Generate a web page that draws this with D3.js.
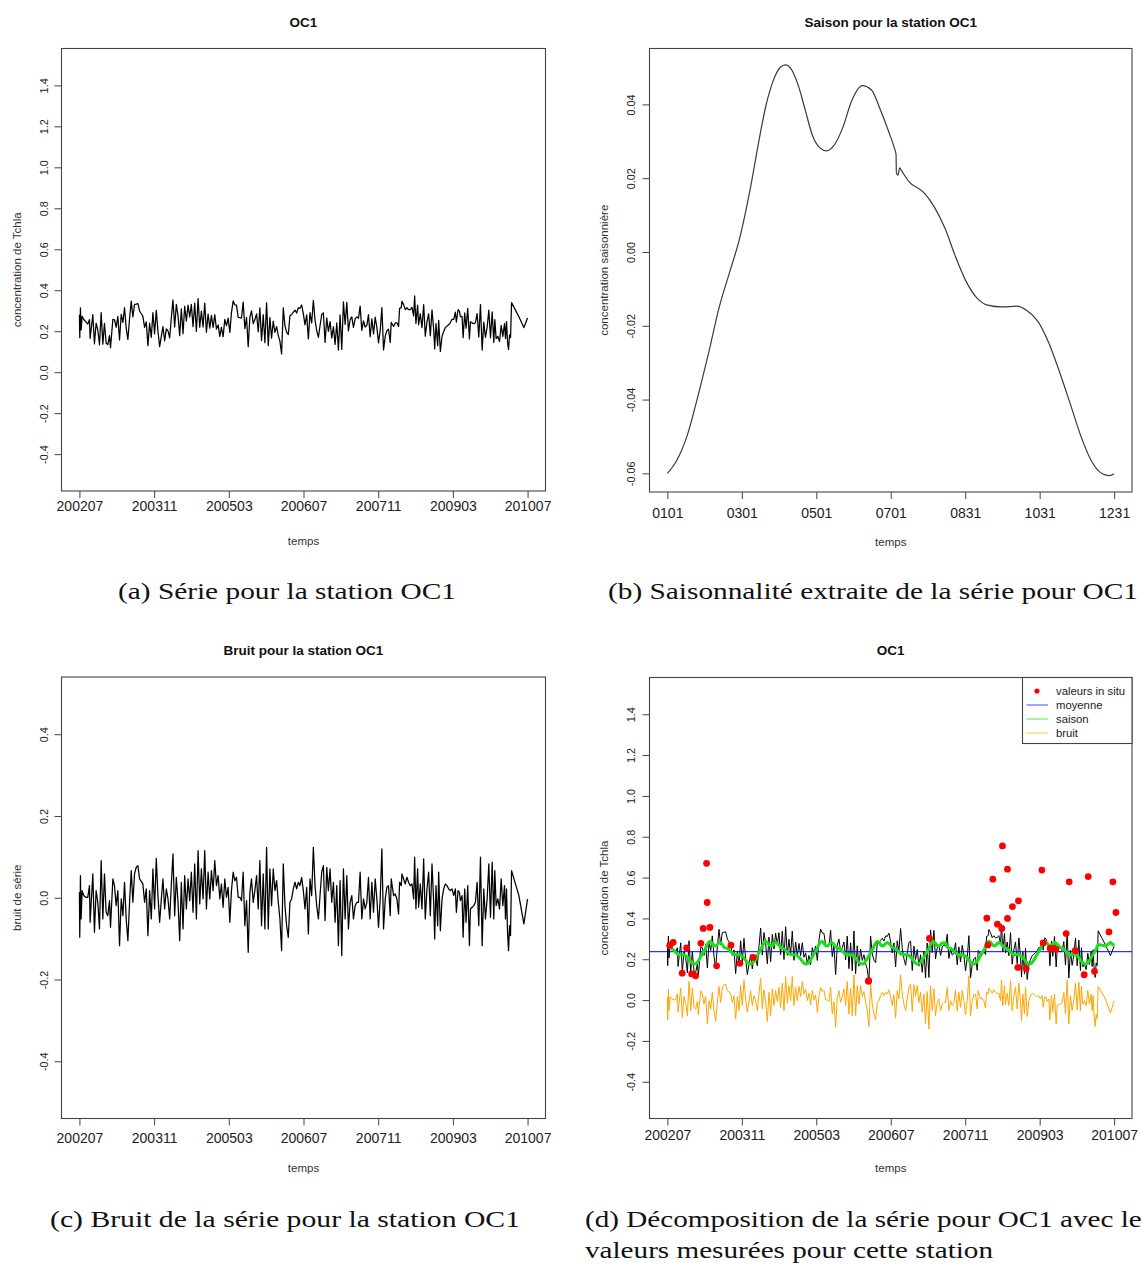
<!DOCTYPE html>
<html>
<head>
<meta charset="utf-8">
<script src="https://cdn.jsdelivr.net/npm/d3@7"></script>
<style>
  body { margin: 0; background: #fff; }
  svg { display: block; }
</style>
</head>
<body>
<svg id="fig" width="1142" height="1264"></svg>
<script>
// ---- station OC1 : time axis (decimal years) ----
const timeStart = 2002.5;
const timeEnd = 2010.5;
const timeTickLabels = ["200207", "200311", "200503", "200607", "200711", "200903", "201007"];

// observation dates (decimal years)
const obsTime = [
  2002.500,2002.506,2002.518,2002.530,2002.548,2002.578,2002.619,2002.649,2002.679,2002.691,
  2002.739,2002.768,2002.798,2002.828,2002.858,2002.888,2002.918,2002.947,2002.977,2003.007,
  2003.037,2003.055,2003.097,2003.126,2003.156,2003.186,2003.216,2003.246,2003.276,2003.305,
  2003.335,2003.365,2003.395,2003.425,2003.454,2003.484,2003.514,2003.544,2003.574,2003.633,
  2003.663,2003.693,2003.723,2003.753,2003.783,2003.812,2003.842,2003.872,2003.902,2003.932,
  2003.962,2003.991,2004.021,2004.051,2004.081,2004.111,2004.141,2004.170,2004.200,2004.230,
  2004.260,2004.290,2004.319,2004.349,2004.379,2004.409,2004.439,2004.469,2004.498,2004.528,
  2004.558,2004.588,2004.618,2004.648,2004.677,2004.707,2004.737,2004.767,2004.797,2004.827,
  2004.856,2004.886,2004.916,2004.946,2004.976,2005.006,2005.035,2005.065,2005.095,2005.125,
  2005.155,
  2005.185,2005.214,2005.244,2005.274,2005.304,2005.334,2005.364,2005.393,2005.423,2005.453,
  2005.483,2005.513,2005.543,2005.572,2005.602,2005.632,2005.662,2005.692,2005.721,2005.751,
  2005.781,2005.811,2005.841,2005.871,2005.900,2005.930,2005.960,2005.990,2006.020,2006.050,
  2006.079,2006.109,2006.139,2006.169,2006.199,2006.229,2006.258,2006.288,2006.318,2006.348,
  2006.378,2006.408,2006.437,2006.467,2006.497,2006.527,2006.557,2006.587,2006.616,2006.646,
  2006.676,2006.706,2006.736,2006.766,2006.795,2006.825,2006.855,2006.885,2006.915,2006.944,
  2006.974,2007.004,2007.034,2007.064,2007.094,2007.123,2007.153,2007.183,2007.213,2007.243,
  2007.273,2007.302,2007.332,2007.362,2007.392,2007.422,2007.452,2007.481,2007.511,2007.541,
  2007.571,2007.601,2007.631,2007.660,2007.690,2007.720,2007.750,2007.780,2007.810,
  2007.839,2007.869,2007.899,2007.929,2007.959,2007.988,2008.018,2008.048,2008.066,2008.108,
  2008.138,2008.167,2008.197,2008.215,2008.245,2008.257,2008.287,2008.317,2008.346,2008.376,
  2008.406,2008.436,2008.466,2008.484,2008.507,2008.537,2008.555,2008.585,2008.615,2008.645,
  2008.674,2008.704,2008.734,2008.764,2008.794,2008.824,2008.842,2008.865,2008.895,2008.913,
  2008.943,2008.973,2009.003,2009.032,2009.062,2009.092,2009.122,2009.152,2009.182,2009.211,
  2009.229,2009.259,2009.283,2009.301,2009.331,2009.349,2009.378,2009.402,2009.432,2009.462,
  2009.480,2009.510,2009.540,2009.569,2009.599,2009.629,2009.659,2009.689,2009.718,2009.748,
  2009.778,2009.808,2009.838,2009.868,2009.897,2009.915,2009.939,2009.969,2009.999,2010.029,
  2010.058,2010.088,2010.106,2010.124,2010.142,2010.160,2010.178,2010.196,2010.214,2010.345,
  2010.434,2010.500
];

// noise component (bruit) at each observation date
const bruit = [
  0.0134,-0.0968,0.0542,-0.0519,0.0175,0.0052,0.0011,0.0011,0.0297,-0.0601,
  0.0583,-0.0845,0.0175,-0.0111,-0.0764,0.0909,-0.0519,0.0583,-0.0356,-0.0437,
  -0.0070,-0.0723,0.0460,0.0297,-0.0193,0.0175,-0.1171,-0.0029,-0.0437,0.0379,
  -0.0519,-0.1049,-0.0111,0.0664,-0.0111,0.0583,0.0746,0.0787,0.0460,0.0338,
  -0.0111,0.0215,-0.0927,0.0175,-0.0519,0.0705,-0.0274,0.0966,0.0052,-0.0601,
  -0.0029,0.0460,-0.0274,0.0215,-0.0029,-0.0519,0.0338,0.1072,-0.0437,0.0501,
  -0.0111,-0.1049,0.0379,-0.0764,0.0542,-0.0274,0.0460,-0.0070,0.0624,-0.0356,
  0.0827,-0.0519,0.1154,-0.0152,0.0705,-0.0029,0.1154,-0.0274,0.0624,-0.0029,
  0.0664,0.0175,0.0909,0.0297,0.0542,-0.0029,0.0338,-0.0233,0.0460,0.0011,
  0.0256,
  -0.0601,0.0175,0.0624,0.0419,0.0501,0.0011,0.0011,-0.0070,0.0624,-0.0682,
  -0.0070,-0.1335,0.0134,0.0460,-0.0111,0.0175,0.0542,-0.0274,0.0909,-0.0682,
  0.0583,-0.0764,0.1235,-0.0764,0.0705,-0.0193,0.0705,0.0175,0.0419,-0.0111,
  -0.0519,-0.1293,0.0827,-0.0193,-0.0682,-0.0968,-0.0111,-0.0029,0.0215,0.0379,
  0.0215,0.0379,0.0297,0.0501,0.0175,-0.0274,0.0256,-0.0885,0.0460,0.0052,
  0.1235,0.0297,-0.0193,-0.0519,0.0052,0.0624,0.0787,-0.0559,0.0746,0.0175,
  0.0705,-0.0111,0.0379,-0.0601,0.0297,-0.1171,0.0419,-0.1416,0.0705,-0.0519,
  0.0542,-0.0764,-0.0111,0.0052,-0.0519,-0.0193,-0.0111,-0.0111,0.0624,-0.0519,
  -0.0029,-0.0274,-0.0111,0.0501,-0.0519,0.0379,-0.0356,0.0460,-0.0029,
  -0.0723,-0.0029,0.1195,-0.0764,-0.0029,0.0256,0.0297,-0.0437,0.0460,0.0052,
  0.0093,-0.0029,-0.0396,0.0379,0.0297,0.0583,0.0460,0.0338,0.0501,0.0379,
  0.0297,0.0338,-0.0029,0.0991,-0.0274,0.0705,-0.0233,0.0338,-0.0274,0.0950,
  -0.0519,0.0215,0.0624,-0.0437,0.0827,-0.0111,-0.1008,0.0297,-0.0682,0.0624,
  -0.0804,-0.0029,0.0215,0.0338,0.0297,0.0215,0.0175,0.0215,0.0052,0.0215,
  -0.0356,0.0175,0.0134,-0.0070,0.0052,-0.0968,0.0215,-0.0601,0.0297,-0.1171,
  -0.0274,-0.0233,-0.0193,-0.0111,0.0379,-0.0682,0.0991,-0.1171,0.0215,-0.0519,
  -0.0029,0.0827,-0.0477,0.0869,-0.0519,0.0664,-0.0193,-0.0029,-0.0274,0.0460,
  -0.0193,0.0297,-0.0519,0.0215,-0.0845,-0.1293,-0.0682,-0.0926,0.0664,0.0052,
  -0.0641,-0.0031
];

// mean level of the series
const moyenne = 0.237;

// seasonal component over one year (day of year -> value)
const saisonDay = [1, 8.3, 17, 25.8, 34.5, 43.3, 52, 60.2, 68, 75.4,
  81.2, 87.1, 92.9, 97.3, 101.6, 107.5, 113.3, 119.1, 125, 130.8,
  136.6, 143.9, 151.2, 159.9, 167.3, 174.6, 181.8, 186.2, 187.3, 187.6,
  188.8, 190.3, 191.5, 197.8, 209.6, 218.3, 227.1, 235.8, 244.6, 253.3,
  262, 273.7, 285.4, 294.1, 302.9, 311.7, 320.4, 329.2, 337.9, 346.6,
  355.4, 361.2, 365];
const saisonVal = [-0.0600, -0.0567, -0.0499, -0.0392, -0.0275, -0.0149, -0.0052, 0.0041, 0.0162, 0.0298,
  0.0395, 0.0463, 0.0500, 0.0507, 0.0497, 0.0453, 0.0385, 0.0317, 0.0283, 0.0274,
  0.0288, 0.0337, 0.0410, 0.0451, 0.0439, 0.0385, 0.0322, 0.0279, 0.0265, 0.0215,
  0.0208, 0.0228, 0.0222, 0.0191, 0.0162, 0.0123, 0.0065, -0.0013, -0.0081, -0.0125,
  -0.0144, -0.0149, -0.0147, -0.0159, -0.0188, -0.0246, -0.0324, -0.0411, -0.0499, -0.0567,
  -0.0601, -0.0606, -0.0601];
const dayTickLabels = ["0101", "0301", "0501", "0701", "0831", "1031", "1231"];

// in situ measurements
const insituTime = [2002.545, 2002.604, 2002.765, 2002.844, 2002.934, 2003.005, 2003.100, 2003.142, 2003.202, 2003.213,
  2003.262, 2003.382, 2003.638, 2003.799, 2004.038, 2006.099, 2006.105, 2007.192, 2008.220, 2008.240,
  2008.328, 2008.410, 2008.489, 2008.500, 2008.590, 2008.590, 2008.679, 2008.776, 2008.787, 2008.925,
  2009.206, 2009.230, 2009.355, 2009.414, 2009.457, 2009.641, 2009.695, 2009.803, 2009.964, 2010.036,
  2010.149, 2010.407, 2010.478, 2010.532];
const insituVal = [0.269, 0.283, 0.132, 0.255, 0.128, 0.119, 0.278, 0.351, 0.670, 0.478,
  0.356, 0.168, 0.269, 0.180, 0.209, 0.092, 0.095, 0.302, 0.401, 0.270,
  0.592, 0.372, 0.351, 0.755, 0.641, 0.400, 0.458, 0.160, 0.486, 0.155,
  0.637, 0.280, 0.253, 0.253, 0.250, 0.326, 0.579, 0.242, 0.124, 0.605,
  0.141, 0.334, 0.579, 0.429];

// y tick values
const concTicks = [-0.4, -0.2, 0, 0.2, 0.4, 0.6, 0.8, 1.0, 1.2, 1.4];
const bruitTicks = [-0.4, -0.2, 0, 0.2, 0.4];
const saisonTicks = [-0.06, -0.04, -0.02, 0, 0.02, 0.04];

// ---- derived series ----
const saisonOf = d3.scaleLinear().domain(saisonDay).range(saisonVal).clamp(true);
const dayOfYear = t => 1 + (t - Math.floor(t)) * 365;
const obs = obsTime.map((t, i) => ({
  t,
  bruit: bruit[i],
  saison: moyenne + saisonOf(dayOfYear(t)),
  serie: moyenne + saisonOf(dayOfYear(t)) + bruit[i]
}));
const insitu = insituTime.map((t, i) => ({ t, v: insituVal[i] }));
const saisonPts = saisonDay.map((d, i) => ({ d, v: saisonVal[i] }));

// ---- drawing helpers ----
const SANS = "'Liberation Sans', Arial, Helvetica, sans-serif";
const SERIF = "'Liberation Serif', 'Times New Roman', serif";
const svg = d3.select("#fig");

// R-like scale: 4 % padding around the data range
function padded(lo, hi, r0, r1) {
  const p = (hi - lo) * 0.04;
  return d3.scaleLinear().domain([lo - p, hi + p]).range([r0, r1]);
}

function panel(o) {
  const g = svg.append("g");
  const x = padded(o.xlim[0], o.xlim[1], o.box.l, o.box.r);
  const y = padded(o.ylim[0], o.ylim[1], o.box.b, o.box.t);

  // x axis
  const xa = d3.axisBottom(x).tickValues(o.xticks)
    .tickFormat((d, i) => o.xlabels[i]).tickSize(7).tickPadding(o.xpad).tickSizeOuter(0);
  const gx = g.append("g").attr("transform", `translate(0,${o.box.b})`).call(xa);
  gx.select(".domain").remove();
  gx.selectAll("line").attr("stroke", "#444").attr("stroke-width", 1);
  gx.selectAll("text").attr("font-family", SANS).attr("font-size", 14).attr("fill", "#222");

  // y axis with labels parallel to the axis
  const ya = d3.axisLeft(y).tickValues(o.yticks).tickFormat(o.yfmt).tickSize(7).tickSizeOuter(0);
  const gy = g.append("g").attr("transform", `translate(${o.box.l},0)`).call(ya);
  gy.select(".domain").remove();
  gy.selectAll("line").attr("stroke", "#444").attr("stroke-width", 1);
  gy.selectAll("text")
    .attr("font-family", SANS).attr("font-size", 10.8).attr("fill", "#222")
    .attr("transform", "rotate(-90)").attr("x", 0).attr("y", -o.ypad).attr("dy", 0)
    .attr("text-anchor", "middle");

  // frame
  g.append("rect").attr("x", o.box.l).attr("y", o.box.t)
    .attr("width", o.box.r - o.box.l).attr("height", o.box.b - o.box.t)
    .attr("fill", "none").attr("stroke", "#444").attr("stroke-width", 1.1);

  // titles
  const cx = (o.box.l + o.box.r) / 2;
  g.append("text").attr("x", cx).attr("y", o.titleY).attr("text-anchor", "middle")
    .attr("font-family", SANS).attr("font-weight", "bold").attr("font-size", 13.5)
    .attr("fill", "#111").text(o.title);
  g.append("text").attr("x", cx).attr("y", o.xlabY).attr("text-anchor", "middle")
    .attr("font-family", SANS).attr("font-size", 11.5).attr("fill", "#333").text("temps");
  g.append("text").attr("transform", `translate(${o.ylabX},${(o.box.t + o.box.b) / 2}) rotate(-90)`)
    .attr("text-anchor", "middle").attr("font-family", SANS).attr("font-size", 11.5)
    .attr("fill", "#333").text(o.ylab);

  const plot = g.append("g");
  return { g: plot, x, y };
}

const timeTicks = d3.range(7).map(i => timeStart + i * (timeEnd - timeStart) / 6);
const dayTicks = d3.range(7).map(i => 1 + i * 364 / 6);
const fmt1 = d => d3.format(".1f")(d).replace("−", "-");
const fmt2 = d => d3.format(".2f")(d).replace("−", "-");

// (a) series
const A = panel({
  box: { l: 61.5, r: 545.5, t: 48.5, b: 491 },
  xlim: [timeStart, timeEnd], ylim: [-0.5, 1.5],
  xticks: timeTicks, xlabels: timeTickLabels, xpad: 3.5,
  yticks: concTicks, yfmt: fmt1, ypad: 14,
  title: "OC1", titleY: 26.5, xlabY: 545, ylab: "concentration de Tchla", ylabX: 20.5
});
A.g.append("path").datum(obs)
  .attr("d", d3.line().x(d => A.x(d.t)).y(d => A.y(d.serie)))
  .attr("fill", "none").attr("stroke", "#000").attr("stroke-width", 1.25).attr("stroke-linejoin", "round");

// (b) seasonal component
const B = panel({
  box: { l: 649.5, r: 1132, t: 48.5, b: 492 },
  xlim: [1, 365], ylim: d3.extent(saisonVal),
  xticks: dayTicks, xlabels: dayTickLabels, xpad: 9,
  yticks: saisonTicks, yfmt: fmt2, ypad: 15,
  title: "Saison pour la station OC1", titleY: 26.5, xlabY: 546, ylab: "concentration saisonnière", ylabX: 608
});
B.g.append("path").datum(saisonPts)
  .attr("d", d3.line().curve(d3.curveMonotoneX).x(d => B.x(d.d)).y(d => B.y(d.v)))
  .attr("fill", "none").attr("stroke", "#3a3a3a").attr("stroke-width", 1.2);

// (c) noise
const C = panel({
  box: { l: 61.5, r: 545.5, t: 677, b: 1118.5 },
  xlim: [timeStart, timeEnd], ylim: [-0.5, 0.5],
  xticks: timeTicks, xlabels: timeTickLabels, xpad: 7.5,
  yticks: bruitTicks, yfmt: fmt1, ypad: 14,
  title: "Bruit pour la station OC1", titleY: 654.5, xlabY: 1172, ylab: "bruit de série", ylabX: 20.5
});
C.g.append("path").datum(obs)
  .attr("d", d3.line().x(d => C.x(d.t)).y(d => C.y(d.bruit)))
  .attr("fill", "none").attr("stroke", "#000").attr("stroke-width", 1.25).attr("stroke-linejoin", "round");

// (d) decomposition with in situ values
const D = panel({
  box: { l: 649.5, r: 1132, t: 677.5, b: 1118.5 },
  xlim: [timeStart, timeEnd], ylim: [-0.5, 1.5],
  xticks: timeTicks, xlabels: timeTickLabels, xpad: 4.5,
  yticks: concTicks, yfmt: fmt1, ypad: 15,
  title: "OC1", titleY: 654.5, xlabY: 1172, ylab: "concentration de Tchla", ylabX: 608
});
D.g.append("path").datum(obs)
  .attr("d", d3.line().x(d => D.x(d.t)).y(d => D.y(d.serie)))
  .attr("fill", "none").attr("stroke", "#000").attr("stroke-width", 1).attr("stroke-linejoin", "round");
D.g.append("path").datum(obs)
  .attr("d", d3.line().x(d => D.x(d.t)).y(d => D.y(d.bruit)))
  .attr("fill", "none").attr("stroke", "#ffa500").attr("stroke-width", 1).attr("stroke-linejoin", "round");
D.g.append("line")
  .attr("x1", D.x.range()[0]).attr("x2", D.x.range()[1])
  .attr("y1", D.y(moyenne)).attr("y2", D.y(moyenne))
  .attr("stroke", "#0000ff").attr("stroke-width", 1);
D.g.append("path").datum(obs)
  .attr("d", d3.line().x(d => D.x(d.t)).y(d => D.y(d.saison)))
  .attr("fill", "none").attr("stroke", "#19e019").attr("stroke-width", 3).attr("stroke-linejoin", "round");
D.g.selectAll("circle.insitu").data(insitu).join("circle")
  .attr("class", "insitu")
  .attr("cx", d => D.x(d.t)).attr("cy", d => D.y(d.v)).attr("r", 3.4)
  .attr("fill", "#ff0000");

// legend of (d)
const legendItems = [
  { label: "valeurs in situ", kind: "point", color: "#ff0000" },
  { label: "moyenne", kind: "line", color: "#0000ff" },
  { label: "saison", kind: "line", color: "#00dd00" },
  { label: "bruit", kind: "line", color: "#ffa500" }
];
const lg = svg.append("g").attr("transform", "translate(1022.5,677.5)");
lg.append("rect").attr("width", 1132 - 1022.5).attr("height", 66)
  .attr("fill", "#fff").attr("stroke", "#444").attr("stroke-width", 1.1);
legendItems.forEach((it, i) => {
  const yy = 13.5 + i * 14;
  if (it.kind === "point") {
    lg.append("circle").attr("cx", 14.5).attr("cy", yy).attr("r", 2.6).attr("fill", it.color);
  } else {
    lg.append("line").attr("x1", 4).attr("x2", 25.5).attr("y1", yy).attr("y2", yy)
      .attr("stroke", it.color).attr("stroke-width", 1).attr("stroke-opacity", 0.7);
  }
  lg.append("text").attr("x", 33.5).attr("y", yy + 4).attr("font-family", SANS)
    .attr("font-size", 11.3).attr("fill", "#222").text(it.label);
});

// sub-figure captions
const captions = [
  { text: "(a) Série pour la station OC1", x: 118, y: 599, w: 338 },
  { text: "(b) Saisonnalité extraite de la série pour OC1", x: 608, y: 599, w: 530 },
  { text: "(c) Bruit de la série pour la station OC1", x: 50, y: 1227, w: 470 },
  { text: "(d) Décomposition de la série pour OC1 avec les", x: 585, y: 1227, w: 568 },
  { text: "valeurs mesurées pour cette station", x: 585, y: 1258, w: 408 }
];
svg.append("g").selectAll("text").data(captions).join("text")
  .attr("x", d => d.x).attr("y", d => d.y)
  .attr("textLength", d => d.w).attr("lengthAdjust", "spacingAndGlyphs")
  .attr("font-family", SERIF).attr("font-size", 24).attr("fill", "#111")
  .text(d => d.text);
</script>
</body>
</html>
